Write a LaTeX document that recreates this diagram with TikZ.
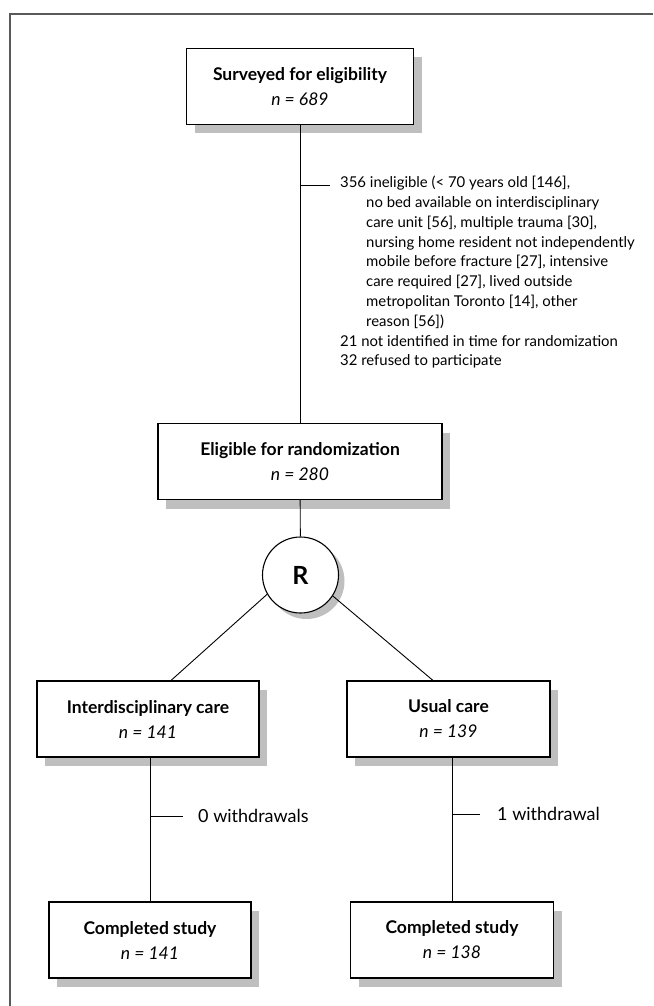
\documentclass[tikz,border=0pt]{standalone}
\usepackage{fontspec}
\setmainfont{Lato}
\usetikzlibrary{shadows}

\tikzset{
  box/.style={draw, line width=1.1pt, fill=white, align=center, inner sep=0pt,
    minimum height=76pt, font=\fontsize{17.5}{25}\selectfont,
    drop shadow={shadow xshift=8pt, shadow yshift=-9pt, fill=black!25, opacity=1}},
  note/.style={inner sep=0pt, font=\fontsize{14.9}{19.8}\selectfont},
  link/.style={line width=0.9pt}
}

\begin{document}
\begin{tikzpicture}[x=1pt,y=-1pt]
\useasboundingbox (0,0) rectangle (653,1006);
\draw[black!65, line width=1.4pt] (10,1006) -- (10,14) -- (653,14);

% main column
\node[box, minimum width=227pt] (sv) at (300,86.5) {\textbf{Surveyed for eligibility}\\\textit{n = 689}};
\node[box, minimum width=284pt] (el) at (300,461.5) {\textbf{Eligible for randomization}\\\textit{n = 280}};
\node[circle, draw, line width=1.1pt, fill=white, minimum size=76pt, inner sep=0pt,
  font=\fontsize{25}{25}\selectfont\bfseries,
  drop shadow={shadow xshift=6pt, shadow yshift=-6pt, fill=black!25, opacity=1}] (R) at (300.5,575) {R};

% arms
\node[box, minimum width=222pt] (itc) at (148,719) {\textbf{Interdisciplinary care}\\\textit{n = 141}};
\node[box, minimum width=203pt] (uc) at (448.5,719) {\textbf{Usual care}\\\textit{n = 139}};
\node[box, minimum width=202pt] (cs1) at (150,940) {\textbf{Completed study}\\\textit{n = 141}};
\node[box, minimum width=203pt] (cs2) at (452,940) {\textbf{Completed study}\\\textit{n = 138}};

% exclusions
\node[note, anchor=north west, align=left] (excl) at (340,176) {%
356 ineligible (< 70 years old [146],\\
\hspace*{26pt}no bed available on interdisciplinary\\
\hspace*{26pt}care unit [56], multiple trauma [30],\\
\hspace*{26pt}nursing home resident not independently\\
\hspace*{26pt}mobile before fracture [27], intensive\\
\hspace*{26pt}care required [27], lived outside\\
\hspace*{26pt}metropolitan Toronto [14], other\\
\hspace*{26pt}reason [56])\\
21 not identified in time for randomization\\
32 refused to participate};
\node[note, anchor=west, font=\fontsize{18}{20}\selectfont] (wd1) at (198,816) {0 withdrawals};
\node[note, anchor=west, font=\fontsize{18}{20}\selectfont] (wd2) at (497,814) {1 withdrawal};

\draw[link] (sv) -- (el);
\draw[link] (el) -- (R);
\draw[link] (R.210) -- ([xshift=23pt]itc.north);
\draw[link] (R.-33) -- ([xshift=-15.5pt]uc.north);
\draw[link] (cs1.north |- itc.south) -- (cs1.north);
\draw[link] (cs2.north |- uc.south) -- (cs2.north);

\coordinate (tk1) at (300,185);
\coordinate (tk2) at (150,816);
\coordinate (tk3) at (452,814);
\draw[link] (tk1) -- ++(30,0);
\draw[link] (tk2) -- ++(33,0);
\draw[link] (tk3) -- ++(28,0);
\end{tikzpicture}
\end{document}
